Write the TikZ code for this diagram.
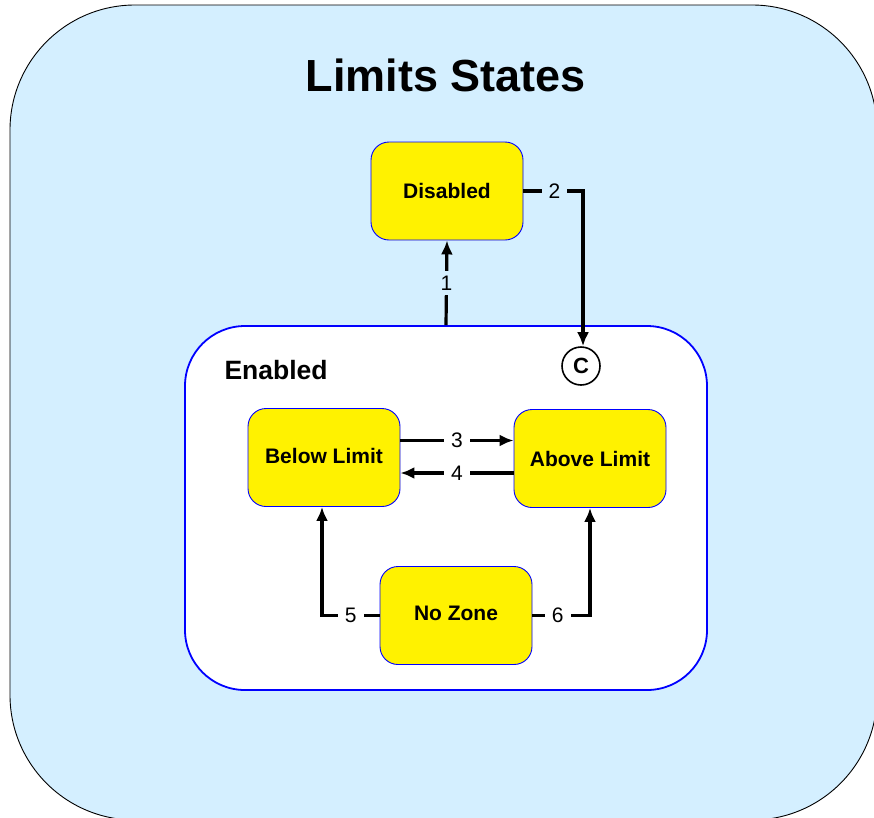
\documentclass[tikz,border=0pt]{standalone}
\usepackage{fontspec}
\setmainfont{Liberation Sans}
\usetikzlibrary{arrows.meta,calc}
\definecolor{bgblue}{RGB}{212,239,255}
\definecolor{stblue}{RGB}{0,0,255}
\begin{document}
\begin{tikzpicture}[x=1pt,y=-1pt,
  state/.style={draw=stblue, line width=0.9pt, fill=yellow, rounded corners=18pt,
    minimum width=152pt, minimum height=98pt, inner sep=0pt,
    font=\fontsize{21}{25}\selectfont\bfseries},
  arr/.style={line width=3.2pt, -{Latex[length=14pt,width=12pt]}},
  lbl/.style={fill=#1, inner xsep=7pt, inner ysep=5pt, font=\fontsize{21}{25}\selectfont},
  lbl/.default=white]
\useasboundingbox (0,0) rectangle (874,817);
\begin{scope}
\clip (0,0) rectangle (874,817);
\node[draw=black, line width=0.9pt, fill=bgblue, rounded corners=125pt,
  minimum width=867pt, minimum height=815pt, inner sep=0pt] (outer) at (443.5,412.5) {};
\end{scope}
\node[font=\fontsize{45}{50}\selectfont\bfseries] (title) at (446,75) {Limits States};
\node[draw=stblue, line width=1.8pt, fill=white, rounded corners=60pt,
  minimum width=522pt, minimum height=364pt, inner sep=0pt] (enabled) at (446,508) {};
\node[anchor=west, font=\fontsize{26.5}{30}\selectfont\bfseries] (enlbl) at (221,370) {Enabled};
\node[state] (disabled) at (447,191) {Disabled};
\node[state] (below) at (324,457.5) {\raisebox{4pt}{Below Limit}};
\node[state] (above) at (590,458.5) {Above Limit};
\node[state] (nozone) at (456,615.5) {\raisebox{5pt}{No Zone}};
\node[draw=black, circle, line width=1.6pt, fill=white, minimum size=38pt, inner sep=0pt,
  font=\fontsize{22}{26}\selectfont\bfseries] (conn) at (581,366) {C};
% 1
\draw[arr] (enabled.north) -- (disabled.south) node[pos=0.5, lbl=bgblue] {1};
% 2
\draw[arr] (disabled.east) -| ([xshift=2pt]conn.north) node[pos=0.26, lbl=bgblue] {2};
% 3
\draw[arr] ([yshift=17pt]below.east) coordinate (a3) -- (a3 -| above.west) node[midway, lbl] {3};
% 4
\draw[arr] ([yshift=-14.5pt]above.west) coordinate (a4) -- (a4 -| below.east) node[midway, lbl] {4};
% 5
\draw[arr] (nozone.west) -| ([xshift=-2pt]below.south) node[pos=0.25, lbl] {5};
% 6
\draw[arr] (nozone.east) -| (above.south) node[pos=0.22, lbl] {6};
\end{tikzpicture}
\end{document}
